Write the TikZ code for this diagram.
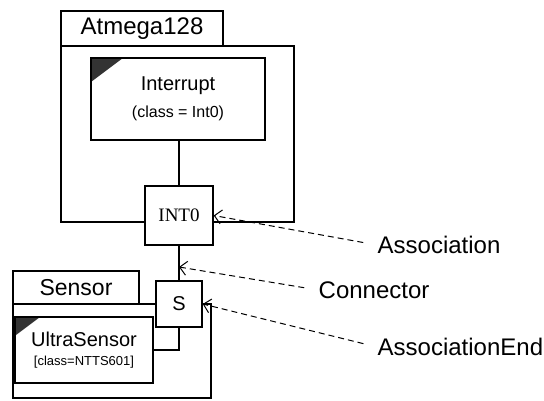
\documentclass[tikz,border=0pt]{standalone}
\usepackage{fontspec}
\setmainfont{Liberation Sans}
\newfontfamily\portfont{Liberation Serif}
\usepackage{tikz}
\usetikzlibrary{arrows,arrows.meta}
\usetikzlibrary{positioning}

\begin{document}
\begin{tikzpicture}[x=0.5pt,y=-0.5pt,line width=0.7pt,
	tabnode/.style={rectangle,draw,inner sep=0pt},
	bodynode/.style={rectangle,draw,inner sep=0pt},
	partnode/.style={rectangle,draw,fill=white,inner sep=0pt,align=center,
		path picture={\fill[black!80] (path picture bounding box.north west) -- ++(#1,0) -- ++(-#1,-0.75*#1) -- cycle;}},
	partnode/.default=16pt,
	portnode/.style={rectangle,draw,fill=white,inner sep=0pt},
	note/.style={anchor=west,inner sep=0pt,font=\fontsize{12}{14}\selectfont},
	hint/.style={-{Straight Barb[length=3.5pt,width=7pt]},dash pattern=on 3pt off 2pt,line width=0.5pt,shorten <=7pt}
]
\useasboundingbox (0,0) rectangle (544,400);

% Atmega128 part
\node (atmega) [bodynode,minimum width=116.5pt,minimum height=88pt] at (177.5,134) {};
\node (atmegatab) [tabnode,minimum width=81pt,minimum height=17.5pt,font=\fontsize{12}{14}\selectfont] at (142,28.5) {Atmega128};
\node (interrupt) [partnode,minimum width=87pt,minimum height=41pt,font=\fontsize{10}{13.5}\selectfont] at (178,99)
  {Interrupt\\{\fontsize{8}{9}\selectfont (class = Int0)}};
\node (int0) [portnode,minimum width=34pt,minimum height=29.5pt,font=\portfont\fontsize{9.5}{11}\selectfont] at (179,215.5) {INT0};

% Sensor part
\node (sensor) [bodynode,minimum width=99pt,minimum height=47pt] at (112,351) {};
\node (sensortab) [tabnode,minimum width=63pt,minimum height=16.5pt,font=\fontsize{11.5}{13}\selectfont] at (76,287.5) {Sensor};
\node (ultra) [partnode=12.5pt,minimum width=69pt,minimum height=33pt,font=\fontsize{10}{9.5}\selectfont] at (84,350)
  {UltraSensor\\{\fontsize{6.5}{8}\selectfont [class=NTTS601]}};
\node (s) [portnode,minimum width=23pt,minimum height=23pt,font=\fontsize{10}{12}\selectfont] at (179,304) {S};

\draw (int0.north) -- (int0.north |- interrupt.south);
\draw (int0) -- (s);
\draw (s.south) |- (ultra.east);
\coordinate (conn) at (179,267);

% notes
\node (assoclbl) [note] at (377,245) {Association};
\node (connlbl) [note] at (318,290) {Connector};
\node (endlbl) [note] at (377,347) {AssociationEnd};

\draw [hint] (assoclbl.west) -- (int0.east);
\draw [hint] (connlbl.west) -- (conn);
\draw [hint] (endlbl.west) -- (s.east);
\end{tikzpicture}
\end{document}
